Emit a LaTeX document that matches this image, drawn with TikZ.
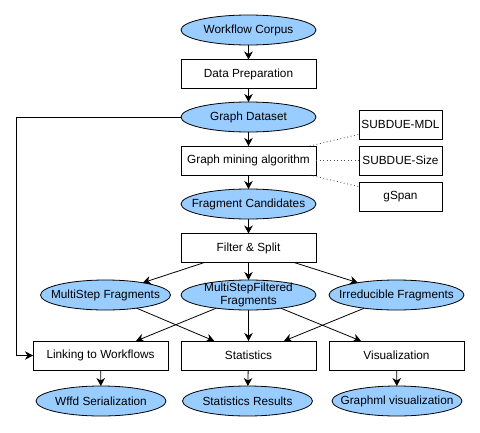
\documentclass[tikz,border=0pt]{standalone}
\usepackage{fontspec}
\setmainfont{Liberation Sans}
\usetikzlibrary{shapes.geometric,arrows.meta}
\definecolor{ellblue}{RGB}{153,204,255}
\newcommand{\zw}[1]{\makebox[0pt]{#1}}
\begin{document}
\begin{tikzpicture}[x=1pt,y=-1pt,
  every node/.style={font=\fontsize{11.8}{12.5}\selectfont, inner sep=0pt, outer sep=0pt},
  ell/.style={ellipse, draw=black, line width=0.8pt, fill=ellblue, minimum width=135pt, minimum height=30pt},
  ells/.style={ell, minimum width=130pt},
  box/.style={rectangle, draw=black, line width=0.8pt, fill=white, minimum width=135pt, minimum height=29pt},
  sbox/.style={box, minimum width=83pt},
  arr/.style={draw=black, line width=0.8pt, -{Stealth[length=8pt,width=8.5pt,inset=2.5pt]}},
  dot/.style={draw=black!70, line width=0.8pt, dash pattern=on 0.9pt off 2.6pt}]
\useasboundingbox (0,0) rectangle (480,432);
\node[ell] (wc) at (248.5,30) {\zw{Workflow Corpus}};
\node[box] (dp) at (248.5,74) {Data Preparation};
\node[ell] (gd) at (248.5,117) {\zw{Graph Dataset}};
\node[box] (gm) at (248.5,160.5) {Graph mining algorithm};
\node[sbox] (mdl) at (400.5,124.5) {SUBDUE-MDL};
\node[sbox] (size) at (400.5,160.5) {SUBDUE-Size};
\node[sbox] (gsp) at (400.5,196.5) {gSpan};
\node[ell] (fc) at (248.5,204) {\zw{Fragment Candidates}};
\node[box] (fs) at (248.5,248) {Filter \& Split};
\node[ells] (ms) at (105.5,295) {\zw{MultiStep Fragments}};
\node[ell, align=center, inner ysep=-4pt] (msf) at (248.5,295) {\zw{MultiStepFiltered}\\\zw{Fragments}};
\node[ell] (irr) at (396.5,295) {\zw{Irreducible Fragments}};
\node[box] (lw) at (100.5,355.5) {Linking to Workflows};
\node[box] (st) at (248.5,355.5) {Statistics};
\node[box] (vis) at (396.5,355.5) {Visualization};
\node[ells] (wf) at (101,401) {\zw{Wffd Serialization}};
\node[ells] (sr) at (247.5,401) {\zw{Statistics Results}};
\node[ells] (gml) at (397,401) {\zw{Graphml visualization}};
\coordinate (c1) at (16,117);
\coordinate (c2) at (16,355.5);

\draw[arr] (wc) -- (dp);
\draw[arr] (dp) -- (gd);
\draw[arr] (gd) -- (gm);
\draw[arr] (gm) -- (fc);
\draw[arr] (fc) -- (fs);
\draw[dot] (gm) -- (mdl);
\draw[dot] (gm) -- (size);
\draw[dot] (gm) -- (gsp);
\draw[arr] (fs) -- (ms);
\draw[arr] (fs) -- (msf);
\draw[arr] (fs) -- (irr);
\draw[arr] (ms) -- (st);
\draw[arr] (msf) -- (lw);
\draw[arr] (msf) -- (st);
\draw[arr] (msf) -- (vis);
\draw[arr] (irr) -- (st);
\draw[arr] (gd.west) -- (c1) -- (c2) -- (lw.west);
\draw[arr] (lw) -- (wf);
\draw[arr] (st) -- (sr);
\draw[arr] (vis) -- (gml);
\end{tikzpicture}
\end{document}
